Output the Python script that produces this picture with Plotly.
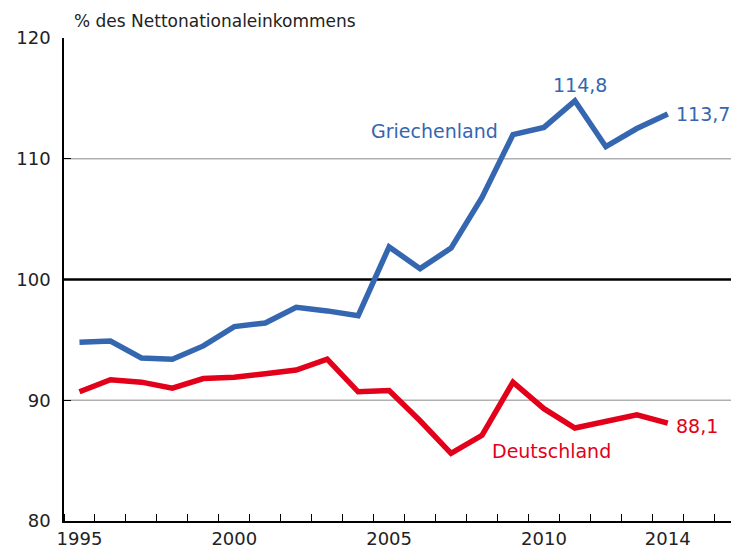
import plotly.graph_objects as go

years = list(range(1995, 2015))
griechenland = [94.8, 94.9, 93.5, 93.4, 94.5, 96.1, 96.4, 97.7, 97.4, 97.0,
                102.7, 100.9, 102.6, 106.8, 112.0, 112.6, 114.8, 111.0, 112.5, 113.7]
deutschland = [90.7, 91.7, 91.5, 91.0, 91.8, 91.9, 92.2, 92.5, 93.4, 90.7,
               90.8, 88.3, 85.6, 87.1, 91.5, 89.3, 87.7, 88.3, 88.8, 88.1]
x_ticks = [1995, 2000, 2005, 2010, 2014]
y_ticks = [80, 90, 100, 110, 120]
grid_lines = [90, 110]

BLUE = "#3566B0"
RED = "#E2001A"
FONT = "DejaVu Sans"

fig = go.Figure()
fig.add_trace(go.Scatter(x=years, y=griechenland, mode="lines",
                         line=dict(color=BLUE, width=5.5), name="Griechenland"))
fig.add_trace(go.Scatter(x=years, y=deutschland, mode="lines",
                         line=dict(color=RED, width=5.5), name="Deutschland"))

# grid lines and the 100 reference line
for g in grid_lines:
    fig.add_shape(type="line", xref="paper", x0=0, x1=1, y0=g, y1=g,
                  line=dict(color="#b0b0b0", width=1.5), layer="below")
fig.add_shape(type="line", xref="paper", x0=0, x1=1, y0=100, y1=100,
              line=dict(color="black", width=2.5), layer="below")

# page body has an 8px default margin, so the figure is sized to fit inside it
fig.update_layout(
    width=731, height=546,
    margin=dict(l=56, r=0, t=30, b=33),
    paper_bgcolor="white", plot_bgcolor="white",
    showlegend=False,
    font=dict(family=FONT, size=18, color="#222"),
    xaxis=dict(range=[1994.5, 2016.3], tickvals=x_ticks,
               ticktext=[str(v) for v in x_ticks], ticks="",
               showgrid=False, zeroline=False, automargin=False,
               showline=True, linecolor="black", linewidth=2,
               minor=dict(tickvals=[y + 0.5 for y in range(1994, 2016)],
                          ticks="inside", ticklen=7, tickcolor="black",
                          tickwidth=1, showgrid=False)),
    yaxis=dict(range=[80, 120], tickvals=y_ticks, ticks="inside",
               ticklen=7, tickcolor="black", showgrid=False,
               zeroline=False, automargin=False,
               showline=True, linecolor="black", linewidth=1.5,
               ticklabelstandoff=8),
)

fig.add_annotation(text="% des Nettonationaleinkommens", xref="paper", yref="paper",
                   x=0.012, y=1.0, yshift=5, xanchor="left", yanchor="bottom",
                   showarrow=False, font=dict(size=17, color="#222"))
fig.add_annotation(text="Griechenland", x=2006.45, y=112.3, showarrow=False,
                   font=dict(color=BLUE, size=19))
fig.add_annotation(text="114,8", x=2011.16, y=116.1, showarrow=False,
                   font=dict(color=BLUE, size=19))
fig.add_annotation(text="113,7", x=2014.2, y=113.7, xanchor="left", showarrow=False,
                   font=dict(color=BLUE, size=19))
fig.add_annotation(text="Deutschland", x=2010.26, y=85.8, showarrow=False,
                   font=dict(color=RED, size=19))
fig.add_annotation(text="88,1", x=2014.2, y=87.9, xanchor="left", showarrow=False,
                   font=dict(color=RED, size=19))

fig.write_html("out.html")
